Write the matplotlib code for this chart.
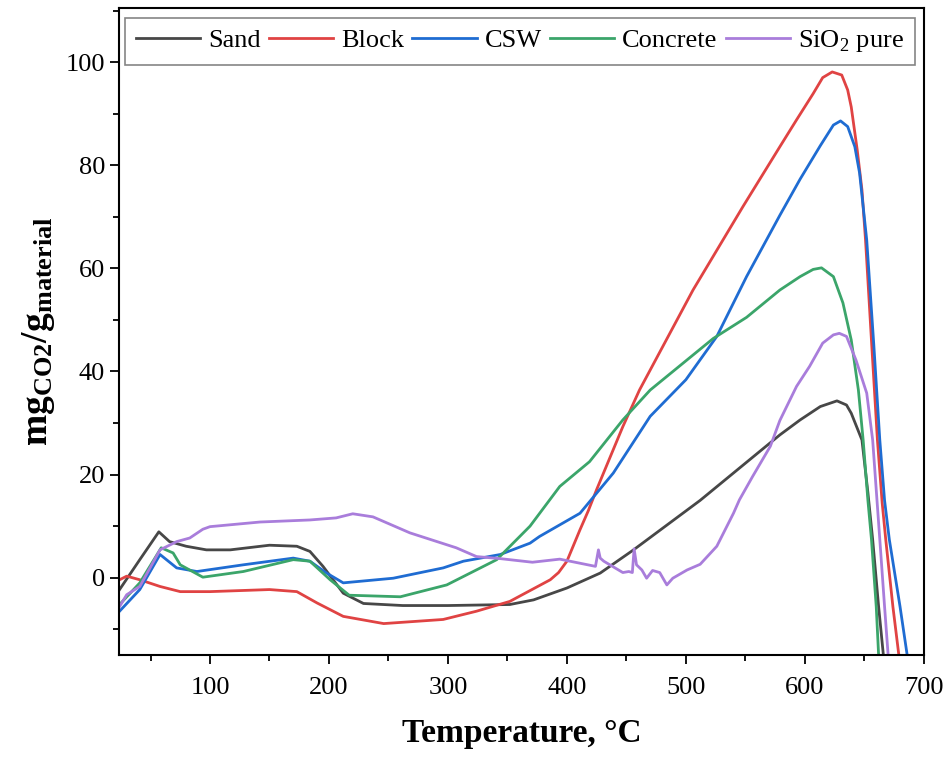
import matplotlib.pyplot as plt
from matplotlib.ticker import MultipleLocator

plt.rcParams['font.family'] = 'Liberation Serif'
plt.rcParams['mathtext.fontset'] = 'custom'
plt.rcParams['mathtext.rm'] = 'Liberation Serif'
plt.rcParams['mathtext.bf'] = 'Liberation Serif:bold'

# CO2 uptake curves
sand_t = [24, 41, 57, 66, 80, 97, 117, 150, 173, 184, 195, 212, 229, 262, 300, 352, 372, 400,
          428, 456, 512, 579, 596, 613, 627, 635, 639, 648, 653, 657, 662, 666]
sand_v = [-2.3, 3.5, 8.9, 7.0, 6.1, 5.4, 5.4, 6.3, 6.1, 5.1, 2.2, -3.0, -5.0, -5.4, -5.4, -5.2,
          -4.3, -2.0, 0.9, 5.4, 15.0, 27.7, 30.6, 33.2, 34.3, 33.5, 31.9, 26.7, 16.5, 7.4, -5.6, -15]

block_t = [24, 30, 41, 58, 75, 100, 150, 173, 190, 212, 246, 296, 324, 352, 369, 386, 393, 400,
           411, 418, 425, 447, 461, 506, 548, 579, 593, 607, 615, 623, 631, 636, 639, 644, 648,
           651, 656, 661, 665, 668, 674, 679]
block_v = [-0.4, 0.3, -0.4, -1.7, -2.7, -2.7, -2.3, -2.7, -4.9, -7.5, -8.9, -8.1, -6.5, -4.6,
           -2.5, -0.4, 1.0, 3.2, 9.3, 13.0, 17.1, 29.3, 36.4, 55.8, 72.0, 83.6, 88.8, 93.9, 97.0,
           98.1, 97.5, 94.6, 91.3, 83.0, 75.2, 65.5, 46.0, 26.7, 14.5, 7.4, -5.6, -15]

csw_t = [24, 41, 58, 72, 89, 128, 170, 184, 198, 212, 254, 296, 313, 344, 369, 377, 411, 439,
         470, 500, 526, 551, 579, 596, 613, 624, 630, 636, 642, 646, 652, 658, 663, 667, 671,
         680, 686]
csw_v = [-6.5, -2.3, 4.5, 1.9, 1.2, 2.5, 3.8, 3.2, 0.9, -1.0, -0.1, 1.9, 3.2, 4.5, 6.7, 8.0, 12.5,
         20.3, 31.3, 38.4, 46.8, 58.4, 70.3, 77.3, 83.8, 87.8, 88.6, 87.5, 83.6, 78.5, 65.5, 45.0,
         26.7, 15.0, 7.4, -5.6, -15]

concrete_t = [24, 41, 59, 69, 75, 94, 128, 170, 184, 201, 217, 260, 299, 341, 369, 394, 419,
              447, 470, 523, 551, 579, 596, 607, 614, 624, 632, 639, 645, 649, 653, 656, 660, 662]
concrete_v = [-5.2, -1.0, 5.8, 4.8, 2.5, 0.1, 1.2, 3.5, 3.2, -0.4, -3.4, -3.7, -1.4, 3.5, 10.0,
              17.7, 22.5, 30.6, 36.4, 46.4, 50.5, 55.8, 58.4, 59.8, 60.1, 58.4, 53.3, 46.1, 36.4,
              26.7, 15.0, 7.4, -5.6, -15]

sio2_t = [24, 30, 41, 58, 72, 83, 94, 100, 142, 184, 206, 220, 237, 268, 307, 324, 344, 371,
          394, 424, 426.5, 428, 431, 447, 452, 455, 456.5, 458.5, 463, 467, 472, 478, 484, 489,
          501, 512, 526, 540, 545, 556, 571, 579, 593, 604, 615, 624, 629, 635, 643, 652, 657,
          663, 667, 670]
sio2_v = [-5.6, -3.3, -1.7, 5.4, 7.0, 7.7, 9.4, 9.9, 10.8, 11.2, 11.6, 12.4, 11.8, 8.7, 5.8, 4.1,
          3.7, 3.0, 3.6, 2.2, 5.4, 3.8, 3.2, 1.0, 1.2, 1.0, 5.6, 2.5, 1.5, -0.1, 1.4, 1.0, -1.4,
          -0.1, 1.5, 2.6, 6.1, 12.5, 15.1, 19.6, 25.5, 30.5, 37.1, 41.0, 45.5, 47.1, 47.4, 46.8,
          42.2, 35.8, 26.7, 7.4, -5.6, -15]

series = [
    ('Sand', sand_t, sand_v, '#474747'),
    ('Block', block_t, block_v, '#e04343'),
    ('CSW', csw_t, csw_v, '#1f6cd2'),
    ('Concrete', concrete_t, concrete_v, '#3ba56a'),
    ('SiO$_2$ pure', sio2_t, sio2_v, '#a97ddb'),
]

fig = plt.figure(figsize=(9.48, 7.63), dpi=100)
ax = fig.add_axes([0.1255, 0.1415, 0.849, 0.848])

for name, t, v, color in series:
    ax.plot(t, v, color=color, lw=2.0, label=name)

ax.set_xlim(23.5, 700)
ax.set_ylim(-15, 110.5)
ax.xaxis.set_major_locator(MultipleLocator(100))
ax.xaxis.set_minor_locator(MultipleLocator(50))
ax.yaxis.set_major_locator(MultipleLocator(20))
ax.yaxis.set_minor_locator(MultipleLocator(10))
ax.set_yticks([0, 20, 40, 60, 80, 100])
ax.tick_params(which='major', length=6.5, width=1.3, labelsize=19, direction='out')
ax.tick_params(axis='x', which='major', pad=9)
ax.tick_params(which='minor', length=4, width=1.3, direction='out')
for s in ax.spines.values():
    s.set_linewidth(1.5)

ax.set_xlabel('Temperature, °C', fontsize=24, fontweight='bold', labelpad=14)
ax.set_ylabel(r'$\mathbf{mg_{CO2}/g_{material}}$', fontsize=27, labelpad=6)

leg = ax.legend(loc='upper left', ncol=5, fontsize=19, frameon=True, fancybox=False,
                handlelength=2.45, handletextpad=0.3, columnspacing=0.3, borderpad=0.4,
                borderaxespad=0, bbox_to_anchor=(0.0075, 0.985))
leg.get_frame().set_edgecolor('#666666')
leg.get_frame().set_linewidth(1.2)

fig.savefig('out.png', dpi=100)
